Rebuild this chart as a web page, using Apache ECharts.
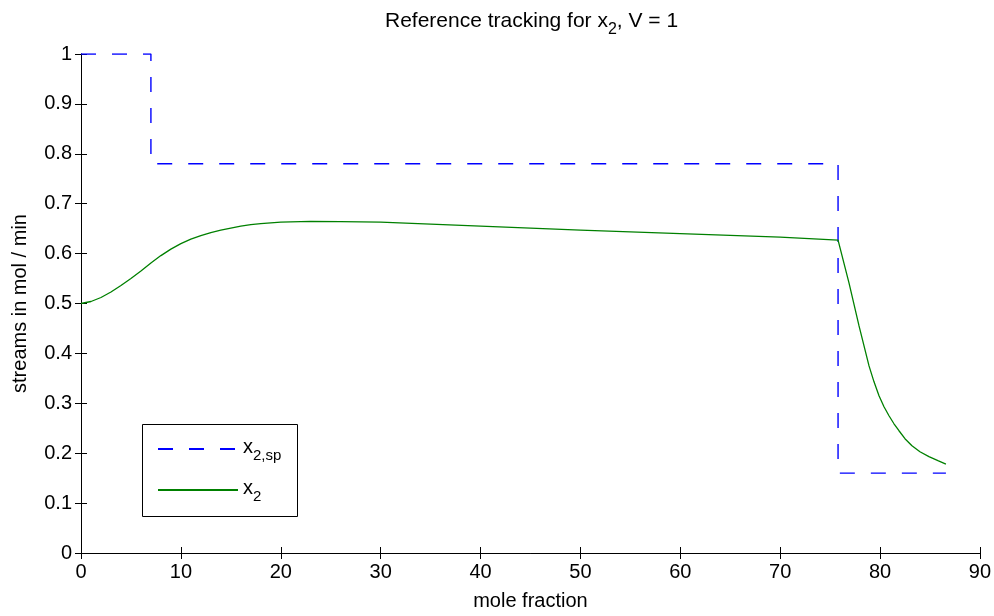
<!DOCTYPE html>
<html>
<head>
<meta charset="utf-8">
<script src="https://cdn.jsdelivr.net/npm/echarts@6/dist/echarts.min.js"></script>
<style>html,body{margin:0;padding:0;background:#fff;}#c{width:994px;height:616px;}</style>
</head>
<body>
<div id="c"></div>
<script>
const spX = [0, 7, 7, 75.8, 75.8, 86.6];
const spY = [1, 1, 0.78, 0.78, 0.16, 0.16];
const x2X = [0, 1, 2, 3, 4, 5, 6, 7, 8, 9, 10, 11, 12, 13, 14, 15, 16, 17, 18, 20, 23, 26, 30, 40, 50, 60, 70, 75.8, 76.9, 77.9, 78.9, 79.4, 79.9, 80.4, 80.9, 81.4, 81.9, 82.5, 83.2, 84, 84.9, 85.8, 86.6];
const x2Y = [0.500, 0.504, 0.512, 0.523, 0.536, 0.550, 0.565, 0.581, 0.596, 0.609, 0.620, 0.629, 0.636, 0.642, 0.647, 0.651, 0.655, 0.658, 0.660, 0.663, 0.6645, 0.664, 0.663, 0.655, 0.647, 0.640, 0.633, 0.627, 0.541, 0.455, 0.375, 0.343, 0.315, 0.293, 0.275, 0.259, 0.245, 0.229, 0.215, 0.203, 0.193, 0.185, 0.178];
const xTicks = [0, 90, 10];
const yTicks = [0, 1, 0.1];

const font = '"Liberation Sans", Arial, sans-serif';
const FS = 20;
const chart = echarts.init(document.getElementById('c'));
function richFor(fs, sfs, pad) {
  return {
    n: {fontSize: fs, fontFamily: font, color: '#000', lineHeight: 24, verticalAlign: 'top'},
    s: {fontSize: sfs, fontFamily: font, color: '#000', lineHeight: 24, padding: [pad, 0, 0, 0], verticalAlign: 'top'}
  };
}
function axisCommon(showLabel) {
  return {
    axisLine: {show: true, lineStyle: {color: '#000', width: 1}},
    axisTick: {show: true, inside: true, length: 6, lineStyle: {color: '#000'}},
    axisLabel: {show: showLabel, color: '#000', fontSize: FS, fontFamily: font, margin: 9},
    splitLine: {show: false}
  };
}
chart.setOption({
  animation: false,
  backgroundColor: '#fff',
  grid: {left: 81, right: 13, top: 54, bottom: 62},
  title: {
    text: '{n|Reference tracking for x}{s|2}{n|, V = 1}',
    left: 380, top: 6,
    textStyle: {fontWeight: 'normal', fontSize: 21, fontFamily: font, rich: richFor(21, 16, 11)}
  },
  graphic: [{
    type: 'rect', left: 142, top: 424, z: 10,
    shape: {width: 155, height: 92},
    style: {fill: '#fff', stroke: '#000', lineWidth: 1}
  }],
  legend: {
    orient: 'vertical',
    left: 157, top: 437, z: 20,
    padding: 0,
    itemGap: 15,
    itemWidth: 80, itemHeight: 14,
    itemStyle: {opacity: 0},
    data: ['sp', 'x2'],
    formatter: function (n) { return n === 'sp' ? '{n|x}{s|2,sp}' : '{n|x}{s|2}'; },
    textStyle: {fontSize: FS, fontFamily: font, rich: richFor(FS, 15, 11)}
  },
  xAxis: [
    Object.assign({type: 'value', position: 'bottom', min: xTicks[0], max: xTicks[1], interval: xTicks[2],
      name: 'mole fraction', nameLocation: 'middle', nameGap: 38,
      nameTextStyle: {fontSize: FS, fontFamily: font, color: '#000'}}, axisCommon(true)),
    Object.assign({type: 'value', position: 'top', min: xTicks[0], max: xTicks[1], interval: xTicks[2]}, axisCommon(false))
  ],
  yAxis: [
    Object.assign({type: 'value', position: 'left', min: yTicks[0], max: yTicks[1], interval: yTicks[2],
      name: 'streams in mol / min', nameLocation: 'middle', nameGap: 51,
      nameTextStyle: {fontSize: FS, fontFamily: font, color: '#000'}}, axisCommon(true)),
    Object.assign({type: 'value', position: 'right', min: yTicks[0], max: yTicks[1], interval: yTicks[2]}, axisCommon(false))
  ],
  series: [
    {
      name: 'sp', type: 'line', showSymbol: false, symbol: 'none',
      data: spX.map((x, i) => [x, spY[i]]),
      lineStyle: {color: '#0000ff', width: 1.4, type: [15, 16]},
      itemStyle: {color: '#0000ff'}
    },
    {
      name: 'x2', type: 'line', showSymbol: false, symbol: 'none',
      data: x2X.map((x, i) => [x, x2Y[i]]),
      lineStyle: {color: '#008000', width: 1.3},
      itemStyle: {color: '#008000'}
    }
  ]
});
</script>
</body>
</html>
